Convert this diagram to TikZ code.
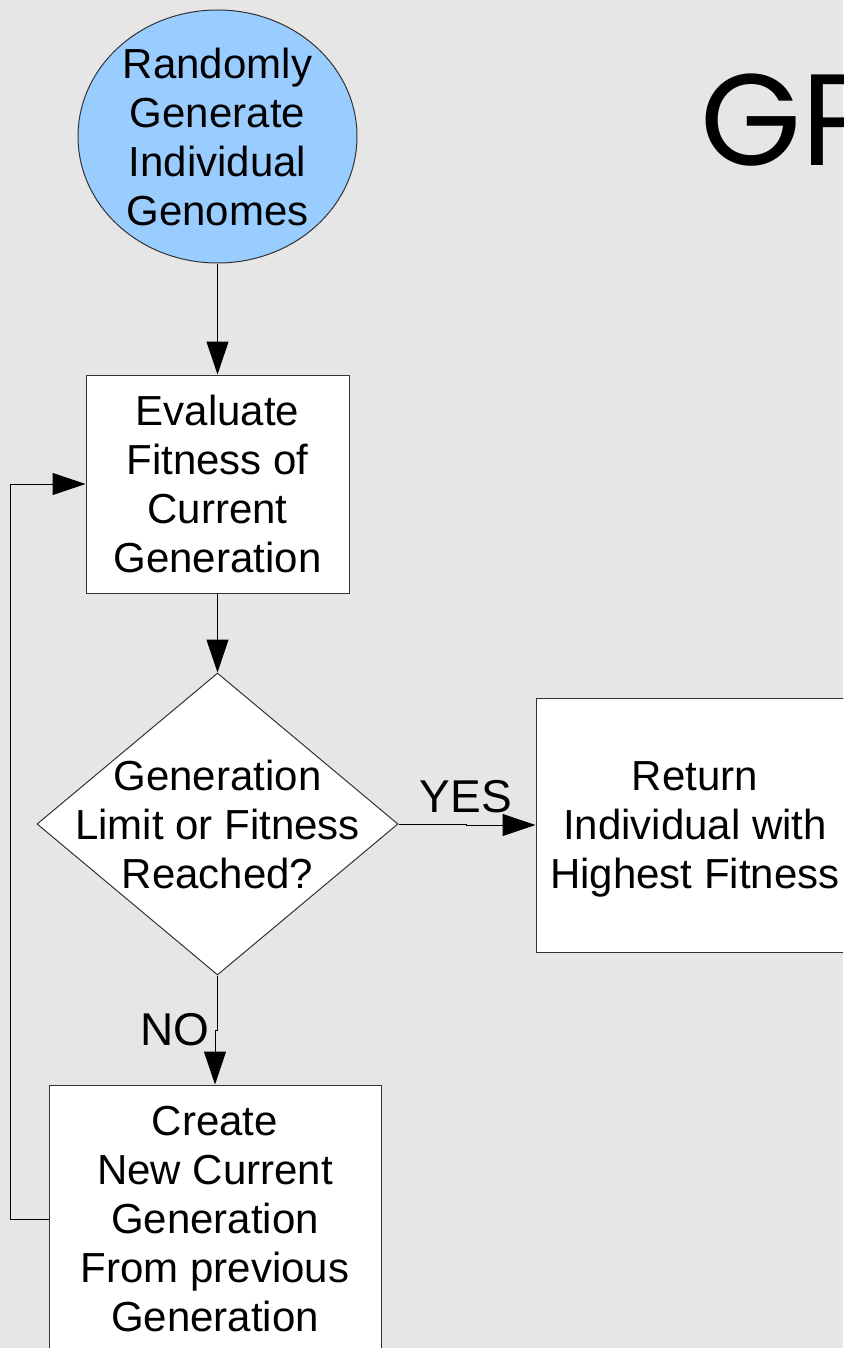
\documentclass[tikz,border=0pt]{standalone}
\usepackage{fontspec}
\setmainfont{Liberation Sans}
\newfontfamily\titlefont{Poppins}
\usetikzlibrary{shapes.geometric,arrows.meta}
\definecolor{bgcol}{HTML}{E6E6E6}
\definecolor{startfill}{HTML}{99CCFF}
\begin{document}
\begin{tikzpicture}[x=1pt,y=-1pt,
  every node/.style={font=\fontsize{42}{49}\selectfont, align=center, inner sep=0pt},
  box/.style={draw=black!80, fill=white, line width=1pt},
  arr/.style={draw=black, line width=1pt, -{Triangle[length=33pt,width=22pt]}},
  lbl/.style={font=\fontsize{46}{50}\selectfont}]
\useasboundingbox (0,0) rectangle (843,1348);
\clip (0,0) rectangle (843,1348);
\fill[bgcol] (0,0) rectangle (843,1348);

% title, running off the right edge
\node[font=\titlefont\fontsize{130}{130}\selectfont, anchor=base west] (title) at (700,166) {GP};

% start terminal
\node[box, ellipse, fill=startfill, minimum width=279pt, minimum height=253pt] (start) at (217.5,136.5) {};
\node (starttext) at (start.center) {Randomly\\Generate\\Individual\\Genomes};

% evaluation step
\node[box, minimum width=263pt, minimum height=218pt] (eval) at (217.5,484) {Evaluate\\Fitness of\\Current\\Generation};

% decision
\node[box, diamond, minimum width=361pt, minimum height=302pt] (dec) at (217.5,824) {};
\node (dectext) at (dec.center) {Generation\\Limit or Fitness\\Reached?};

% result
\node[box, minimum width=318pt, minimum height=254pt] (ret) at (695,825) {};
\node (rettext) at ([yshift=-4pt]ret.center) {Return\\Individual with\\Highest Fitness};

% next generation
\node[box, minimum width=332pt, minimum height=268pt] (create) at (215,1219) {Create\\New Current\\Generation\\From previous\\Generation};

% connectors
\draw[arr] (start.south) -- (eval.north);
\draw[arr] (eval.south) -- (dec.north);
\draw[arr] (dec.east) -- ++(68,0) |- (ret.west);
\node[lbl] (yes) at (466,797) {YES};
\draw[arr] (dec.south) -- ++(0,55) -| (create.north);
\node[lbl] (no) at (175,1030) {NO};
\draw[arr] (create.west) -- ++(-38,0) |- (eval.west);
\end{tikzpicture}
\end{document}
